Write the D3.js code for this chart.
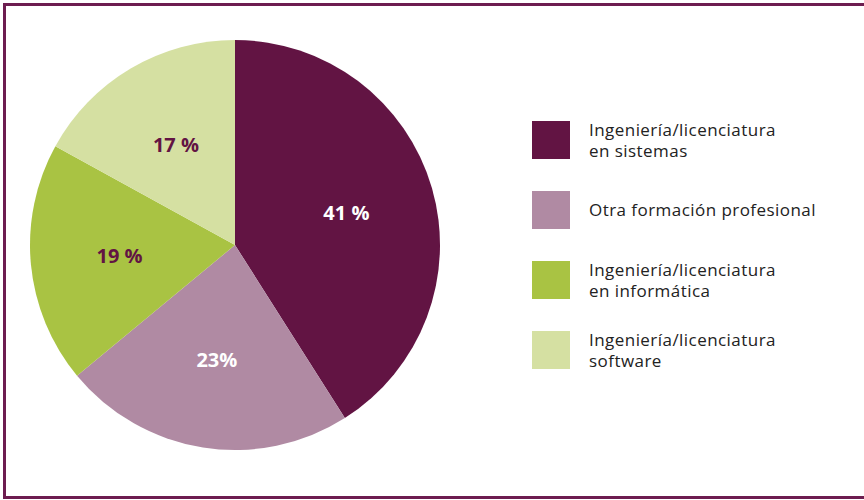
<!DOCTYPE html>
<html><head><meta charset="utf-8">
<script src="https://cdn.jsdelivr.net/npm/d3@7"></script>
<style>body{margin:0;background:#fff}svg{display:block}</style>
</head><body>
<svg id="chart" width="864" height="500"></svg>
<script>
const categories = [
  ["Ingeniería/licenciatura", "en sistemas"],
  ["Otra formación profesional"],
  ["Ingeniería/licenciatura", "en informática"],
  ["Ingeniería/licenciatura", "software"]
];
const values = [41, 23, 19, 17];
const labels = ["41 %", "23%", "19 %", "17 %"];
const colors = ["#621443", "#b08aa3", "#a9c343", "#d5e0a2"];
const labelColors = ["#ffffff", "#ffffff", "#621443", "#621443"];

const svg = d3.select("#chart");
svg.append("rect").attr("x", 4.5).attr("y", 4.5).attr("width", 880).attr("height", 493)
  .attr("fill", "none").attr("stroke", "#6d1d50").attr("stroke-width", 3);

const cx = 235, cy = 245, R = 205;
const g = svg.append("g").attr("transform", `translate(${cx},${cy})`);
const pie = d3.pie().sort(null).value(d => d);
const arcs = pie(values);
const arc = d3.arc().innerRadius(0).outerRadius(R);
const labelArc = d3.arc().innerRadius(116).outerRadius(116);

g.selectAll("path").data(arcs).enter().append("path")
  .attr("d", arc).attr("fill", (d, i) => colors[i]);

g.selectAll("text").data(arcs).enter().append("text")
  .attr("transform", d => `translate(${labelArc.centroid(d)})`)
  .attr("text-anchor", "middle").attr("dy", "0.36em")
  .attr("font-family", "'Open Sans', sans-serif").attr("font-weight", 700)
  .attr("font-size", 20)
  .attr("fill", (d, i) => labelColors[i])
  .text((d, i) => labels[i]);

const y = d3.scaleBand().domain(d3.range(categories.length)).range([105, 385]);
const leg = svg.append("g");
categories.forEach((lines, i) => {
  const top = y(i) + (y.bandwidth() - 38) / 2;
  leg.append("rect").attr("x", 532).attr("y", top).attr("width", 38).attr("height", 38)
    .attr("fill", colors[i]);
  const t = leg.append("text").attr("x", 589)
    .attr("font-family", "'Open Sans', sans-serif").attr("font-size", 17)
    .attr("letter-spacing", 0.45).attr("fill", "#222");
  const mid = top + 19;
  const start = mid - (lines.length - 1) * 21 / 2 + 6;
  lines.forEach((ln, k) => t.append("tspan").attr("x", 589).attr("y", start + k * 21).text(ln));
});
</script>
</body></html>
